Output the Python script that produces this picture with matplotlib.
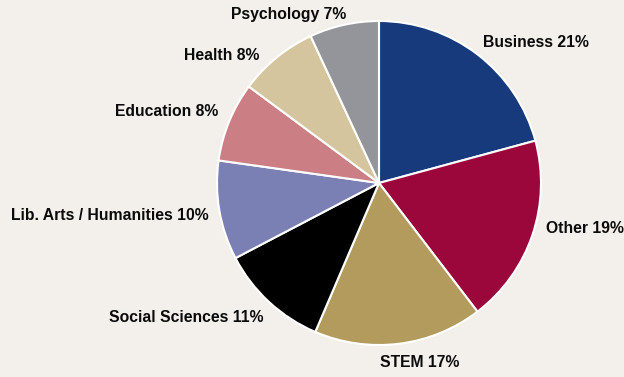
import matplotlib.pyplot as plt

majors = ["Business", "Other", "STEM", "Social Sciences",
          "Lib. Arts / Humanities", "Education", "Health", "Psychology"]
shares = [21, 19, 17, 11, 10, 8, 8, 7]
colors = ["#163a7c", "#9c073b", "#b39a5d", "#000000",
          "#7a80b3", "#cb7e84", "#d5c59f", "#94959a"]
# where each label sits, in pie-radius units
label_xy = [(0.97, 0.87), (1.27, -0.28), (0.25, -1.105), (-1.19, -0.833),
            (-1.66, -0.198), (-1.31, 0.444), (-0.97, 0.784), (-0.56, 1.043)]

bg = "#f3efea"
fig = plt.figure(figsize=(6.24, 3.77), dpi=100, facecolor=bg)
ax = fig.add_axes([0, 0, 1, 1])
ax.set_facecolor(bg)

ax.pie(shares, colors=colors, startangle=90, counterclock=False,
       wedgeprops=dict(edgecolor="white", linewidth=1.5))

for name, val, (x, y) in zip(majors, shares, label_xy):
    ax.text(x, y, f"{name} {val}%", ha="center", va="center",
            fontsize=11.3, fontweight="bold", family="Liberation Sans",
            color="#0a0a0a")

ax.set_xlim(-379 / 162, 245 / 162)
ax.set_ylim(-194 / 162, 183 / 162)
ax.set_aspect("auto")
ax.axis("off")

fig.savefig("out.png", dpi=100, facecolor=bg)
